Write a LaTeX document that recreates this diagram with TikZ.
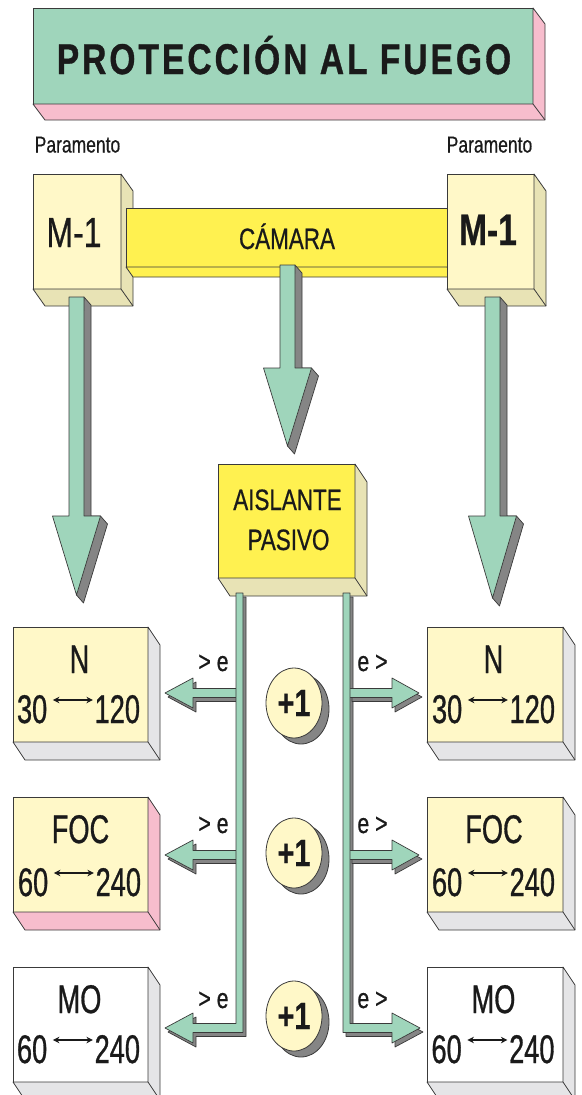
\documentclass[tikz,border=0pt]{standalone}
\usepackage{fontspec}
\setmainfont{Liberation Sans}
\newfontfamily\fA[FakeStretch=0.68,FakeBold=0.7]{Liberation Sans}
\newfontfamily\fB[FakeStretch=0.76,FakeBold=0.6]{Liberation Sans}
\newfontfamily\fT[FakeStretch=0.78,FakeBold=0.8,LetterSpace=7]{Liberation Sans}
\usetikzlibrary{calc,arrows.meta,shapes.geometric}
\definecolor{mint}{HTML}{9FD5BB}
\definecolor{pinkc}{HTML}{F7BDCD}
\definecolor{ltyel}{HTML}{FFF8C8}
\definecolor{khaki}{HTML}{E8E3B5}
\definecolor{yel}{HTML}{FFF150}
\definecolor{ltgray}{HTML}{E5E5E7}
\definecolor{shgray}{HTML}{858585}
\definecolor{ink}{HTML}{1A1A1A}
\definecolor{edgec}{HTML}{3A3A3A}
\newcommand\Extrude[4]{%
  \filldraw[edgest,fill=#2] (#1.north east) -- ++(#3,#4) -- ([shift={(#3,#4)}]#1.south east)
     -- ([shift={(#3,#4)}]#1.south west) -- (#1.south west) -- (#1.south east) -- cycle;
  \draw[edgest] (#1.south east) -- ++(#3,#4);}
\newcommand\BigDown[4]{%
  \filldraw[shadowst] ({#1+7.5},#2) -- ({#1+14.5},{#2+8}) -- ({#1+14.5},#3) -- ({#1+24},#3)
     -- ({#1+31},{#3+8}) -- ({#1+7},{#4+8}) -- (#1,#4) -- cycle;
  \filldraw[greenst] ({#1-7.5},#2) -- ({#1+7.5},#2) -- ({#1+7.5},#3) -- ({#1+24},#3)
     -- (#1,#4) -- ({#1-24},#3) -- ({#1-7.5},#3) -- cycle;}
\newcommand\LArr[2]{%
  \filldraw[#2] (237,{#1-4.5}) -- (193,{#1-4.5}) -- (193,{#1-15}) -- (165,#1)
     -- (193,{#1+15}) -- (193,{#1+4.5}) -- (237,{#1+4.5}) -- cycle;}
\newcommand\RArr[2]{%
  \filldraw[#2] (349,{#1-4.5}) -- (392,{#1-4.5}) -- (392,{#1-15}) -- (419,#1)
     -- (392,{#1+15}) -- (392,{#1+4.5}) -- (349,{#1+4.5}) -- cycle;}
\newcommand\dblarr{\hspace{5pt}\tikz[baseline=0pt]{\draw[draw=ink,line width=1.4pt,
   {Stealth[length=6.5pt,width=6.5pt]}-{Stealth[length=6.5pt,width=6.5pt]}] (0pt,23pt) -- (40pt,23pt);}\hspace{1pt}}
\begin{document}
\begin{tikzpicture}[x=1pt,y=-1pt,
  edgest/.style={draw=edgec,line width=0.8pt,line join=round},
  face/.style={edgest,inner sep=0pt,outer sep=0pt,anchor=north west,rectangle},
  shadowst/.style={fill=shgray,draw=edgec,line width=0.7pt,line join=round},
  greenst/.style={fill=mint,draw=edgec,line width=0.7pt,line join=round},
  btxt/.style={font=\fA\fontsize{40}{40}\selectfont,text=ink,anchor=base,inner sep=0pt},
  mtxt/.style={font=\fB\fontsize{29.5}{30}\selectfont,text=ink,anchor=base,inner sep=0pt},
  etxt/.style={font=\fB\fontsize{28}{28}\selectfont,text=ink,anchor=base,inner sep=0pt},
  ptxt/.style={font=\fB\fontsize{23}{23}\selectfont,text=ink,anchor=base,inner sep=0pt},
  plus/.style={ellipse,minimum width=56pt,minimum height=70pt,inner sep=0pt,fill=ltyel,edgest,
     font=\fB\bfseries\fontsize{38}{38}\selectfont,text=ink}]
\useasboundingbox (0,0) rectangle (581,1095);

% title
\node[face,fill=mint,minimum width=500pt,minimum height=96pt] (title) at (33,8) {};
\Extrude{title}{pinkc}{12}{16}
\node[font=\fT\bfseries\fontsize{43}{43}\selectfont,text=ink,anchor=base,inner sep=0pt] (ttxt) at (284,74) {PROTECCIÓN AL FUEGO};

% paramento labels
\node[ptxt] (parL) at (77.5,152.5) {Paramento};
\node[ptxt] (parR) at (489.5,152.5) {Paramento};

% M-1 left
\node[face,fill=ltyel,minimum width=88pt,minimum height=115pt] (m1l) at (33,174) {};
\Extrude{m1l}{khaki}{12}{17}
\node[font=\fB\fontsize{42}{42}\selectfont,text=ink,anchor=base,inner sep=0pt] (m1ltxt) at (74,247) {M-1};

% camara bar
\node[face,fill=yel,minimum width=321pt,minimum height=59pt] (bar) at (126,208) {};
\filldraw[edgest,fill=yel] (bar.south west) -- ++(7,10) -- ([shift={(7,10)}]bar.south east) -- (bar.south east) -- cycle;
\node[mtxt] (bartxt) at (287,249) {CÁMARA};

% M-1 right
\node[face,fill=ltyel,minimum width=87pt,minimum height=115pt] (m1r) at (447,174) {};
\Extrude{m1r}{khaki}{12}{17}
\node[font=\fB\bfseries\fontsize{44}{44}\selectfont,text=ink,anchor=base,inner sep=0pt] (m1rtxt) at (488,245) {M-1};

% big arrows
\BigDown{76.5}{297}{516}{595}
\BigDown{287.5}{265}{368}{446}
\BigDown{492.5}{297}{516}{598}

% aislante
\node[face,fill=yel,minimum width=137pt,minimum height=114pt] (ais) at (218,464) {};
\Extrude{ais}{khaki}{12}{18}
\node[mtxt] (aistxt1) at (287.5,510) {AISLANTE};
\node[mtxt] (aistxt2) at (288.5,550) {PASIVO};

% pipes and side arrows: shadows
\begin{scope}[shift={(3,4)}]
\filldraw[shadowst] (236,593) -- (236,1023.5) -- (193,1023.5) -- (193,1013) -- (165,1028) -- (193,1043)
   -- (193,1032.5) -- (243,1032.5) -- (243,593) -- cycle;
\filldraw[shadowst] (343,593) -- (343,1032.5) -- (392,1032.5) -- (392,1043) -- (420,1028) -- (392,1013)
   -- (392,1023.5) -- (350,1023.5) -- (350,593) -- cycle;
\LArr{693}{shadowst}
\LArr{855}{shadowst}
\RArr{693}{shadowst}
\RArr{855}{shadowst}
\end{scope}
\LArr{693}{greenst}
\LArr{855}{greenst}
\RArr{693}{greenst}
\RArr{855}{greenst}
\filldraw[greenst] (236,593) -- (236,1023.5) -- (193,1023.5) -- (193,1013) -- (165,1028) -- (193,1043)
   -- (193,1032.5) -- (243,1032.5) -- (243,593) -- cycle;
\filldraw[greenst] (343,593) -- (343,1032.5) -- (392,1032.5) -- (392,1043) -- (420,1028) -- (392,1013)
   -- (392,1023.5) -- (350,1023.5) -- (350,593) -- cycle;

% side labels
\node[etxt] (lN) at (213.5,671) {> e};
\node[etxt] (rN) at (372.5,671) {e >};
\node[etxt] (lF) at (213.5,833) {> e};
\node[etxt] (rF) at (372.5,833) {e >};
\node[etxt] (lM) at (213.5,1008) {> e};
\node[etxt] (rM) at (372.5,1008) {e >};

% +1 ellipses
\foreach \n/\yy in {1/703,2/853,3/1016}{
  \coordinate (e\n) at (294,\yy);
  \filldraw[edgest,fill=shgray] ([shift={(7,6)}]e\n) ellipse [x radius=28pt,y radius=35pt];
  \node[plus] (p\n) at (e\n) {+1};
}

% left boxes
\node[face,fill=ltyel,minimum width=135pt,minimum height=115pt] (nL) at (13,627) {};
\Extrude{nL}{ltgray}{12}{18}
\node[btxt] (nL1) at (79.5,673) {N};
\node[btxt] (nL2) at (78.5,723) {30\dblarr120};

\node[face,fill=ltyel,minimum width=135pt,minimum height=115pt] (fL) at (13,797) {};
\Extrude{fL}{pinkc}{12}{18}
\node[btxt] (fL1) at (80.5,843) {FOC};
\node[btxt] (fL2) at (79.5,896) {60\dblarr240};

\node[face,fill=white,minimum width=135pt,minimum height=115pt] (mL) at (13,967) {};
\Extrude{mL}{ltgray}{12}{18}
\node[btxt] (mL1) at (79.5,1013) {MO};
\node[btxt] (mL2) at (78.5,1063) {60\dblarr240};

% right boxes
\node[face,fill=ltyel,minimum width=136pt,minimum height=115pt] (nR) at (427,627) {};
\Extrude{nR}{ltgray}{12}{18}
\node[btxt] (nR1) at (493.5,673) {N};
\node[btxt] (nR2) at (493.5,723) {30\dblarr120};

\node[face,fill=ltyel,minimum width=136pt,minimum height=115pt] (fR) at (427,797) {};
\Extrude{fR}{ltgray}{12}{18}
\node[btxt] (fR1) at (494,843) {FOC};
\node[btxt] (fR2) at (493.5,896) {60\dblarr240};

\node[face,fill=white,minimum width=136pt,minimum height=115pt] (mR) at (427,967) {};
\Extrude{mR}{ltgray}{12}{18}
\node[btxt] (mR1) at (493.5,1013) {MO};
\node[btxt] (mR2) at (493,1063) {60\dblarr240};
\end{tikzpicture}
\end{document}
